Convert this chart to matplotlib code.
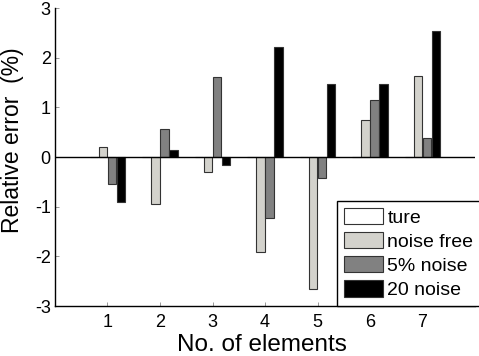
import matplotlib
matplotlib.use("Agg")
import matplotlib.pyplot as plt
import numpy as np

plt.rcParams['font.family'] = ['Liberation Sans', 'DejaVu Sans']
plt.rcParams['axes.unicode_minus'] = False

categories = [1, 2, 3, 4, 5, 6, 7]
series_names = ['ture', 'noise free', '5% noise', '20 noise']
ture = [0, 0, 0, 0, 0, 0, 0]
noise_free = [0.21, -0.95, -0.31, -1.91, -2.65, 0.74, 1.64]
noise5 = [-0.55, 0.57, 1.62, -1.22, -0.42, 1.15, 0.39]
noise20 = [-0.91, 0.15, -0.17, 2.21, 1.48, 1.48, 2.54]
colors = ['#ffffff', '#d3d2cc', '#818181', '#000000']

fig = plt.figure(figsize=(4.79, 3.56), dpi=100)
ax = fig.add_axes([0.1148, 0.1404, 0.8769, 0.8371])

x = np.array(categories, dtype=float)
pitch = 0.17
width = 0.158
data = [ture, noise_free, noise5, noise20]
for i, (vals, c, name) in enumerate(zip(data, colors, series_names)):
    ax.bar(x + (i - 1.5) * pitch, vals, width, color=c, edgecolor='#333333',
           linewidth=0.8, label=name, zorder=2)

ax.axhline(0, color='black', linewidth=1.0, zorder=3)
ax.set_xlim(0, 8)
ax.set_ylim(-3, 3)
ax.set_xticks(categories)
ax.set_yticks([-3, -2, -1, 0, 1, 2, 3])
ax.tick_params(direction='in', length=3, width=0.6, color='#888888', labelsize=13)
ax.tick_params(axis='x', pad=6)
ax.tick_params(axis='y', pad=3)
for s in ['top', 'right']:
    ax.spines[s].set_visible(False)
for s in ['left', 'bottom']:
    ax.spines[s].set_linewidth(1.0)

ax.set_xlabel('No. of elements', fontsize=17.5)
ax.xaxis.label.set_va('center')
ax.xaxis.set_label_coords(0.493, (306 - 345) / 298)
ax.set_ylabel('Relative error  (%)', fontsize=16.5)
ax.yaxis.label.set_va('center')
ax.yaxis.set_label_coords((13 - 55) / 420, (306 - 140) / 298)

leg = ax.legend(loc='lower left', bbox_to_anchor=(0.671, 0.0), borderaxespad=0,
                fancybox=False, edgecolor='black', framealpha=1, fontsize=14,
                handlelength=2.0, handleheight=0.9, handletextpad=0.25,
                labelspacing=0.28, borderpad=0.35)
leg.get_frame().set_linewidth(1.0)
leg.set_zorder(5)

fig.savefig('out.png', dpi=100)
